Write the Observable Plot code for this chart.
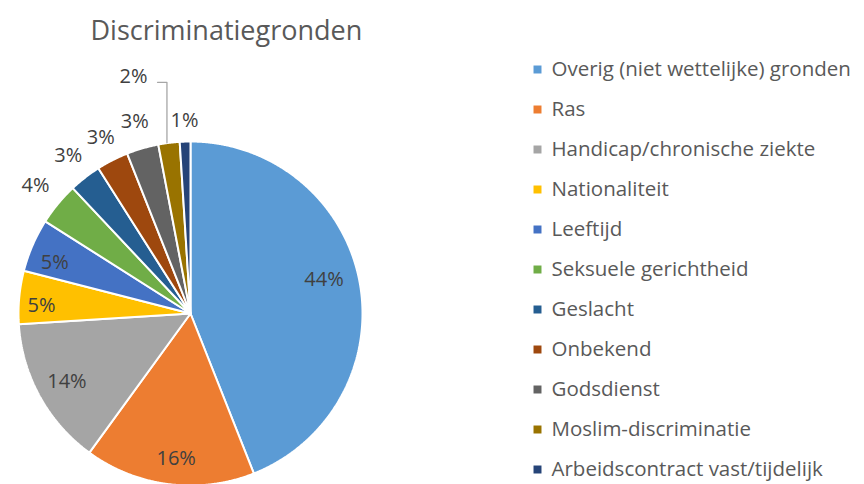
<!DOCTYPE html>
<html><head><meta charset="utf-8">
<script src="https://cdn.jsdelivr.net/npm/d3@7"></script>
<script src="https://cdn.jsdelivr.net/npm/@observablehq/plot@0.6"></script>
<style>body{margin:0;background:#fff}</style>
</head><body><div id="chart"></div>
<script>
const title = "Discriminatiegronden";
const names = ["Overig (niet wettelijke) gronden","Ras","Handicap/chronische ziekte","Nationaliteit","Leeftijd","Seksuele gerichtheid","Geslacht","Onbekend","Godsdienst","Moslim-discriminatie","Arbeidscontract vast/tijdelijk"];
const values = [44,16,14,5,5,4,3,3,3,2,1];
const colors = ["#5B9BD5","#ED7D31","#A5A5A5","#FFC000","#4472C4","#70AD47","#255E91","#9E480E","#636363","#997300","#264478"];

// layout
const W = 864, H = 484, cx = 190, cy = 313, R = 172;
const labelK = [0.79,0.85,0.82,0.87,0.86,1.17,1.16,1.15,1.16,1.39,1.12];
const labelDx = [0,4,0,0,0,0,0,0,0,-27,0];
const labelDy = [-8,0,0,6,8,0,0,0,0,0,0];

const arcs = d3.pie().sort(null).value(d => d)(values);
const pt = (a, r) => [cx + r * Math.sin(a), cy - r * Math.cos(a)];

const slicePts = [];
arcs.forEach((a, i) => {
  slicePts.push({name: names[i], x: cx, y: cy});
  const n = Math.max(2, Math.ceil((a.endAngle - a.startAngle) / 0.005));
  for (let k = 0; k <= n; k++) {
    const ang = a.startAngle + (a.endAngle - a.startAngle) * k / n;
    const [x, y] = pt(ang, R);
    slicePts.push({name: names[i], x, y});
  }
  slicePts.push({name: names[i], x: cx, y: cy});
});

const labels = arcs.map((a, i) => {
  const m = (a.startAngle + a.endAngle) / 2;
  const [x, y] = pt(m, R * labelK[i]);
  return {text: values[i] + "%", x: x + labelDx[i], y: y + labelDy[i]};
});

// leader line for displaced label (Moslim-discriminatie)
const li = 9;
const lm = (arcs[li].startAngle + arcs[li].endAngle) / 2;
const [ex, ey] = pt(lm, R);
const leader = [
  {x: labels[li].x + 24, y: labels[li].y + 6},
  {x: ex - 2, y: labels[li].y + 6},
  {x: ex - 2, y: ey}
];

const legend = names.map((n, i) => ({name: n, y: 69 + i * 40}));

const chart = Plot.plot({
  width: W, height: H, margin: 0,
  x: {domain: [0, W], range: [0, W], axis: null},
  y: {domain: [0, H], range: [0, H], axis: null},
  color: {domain: names, range: colors},
  style: {fontFamily: "'Open Sans', sans-serif", background: "#fff"},
  marks: [
    Plot.line(slicePts, {x: "x", y: "y", z: "name", fill: "name", stroke: "white", strokeWidth: 2, strokeLinejoin: "miter"}),
    Plot.line(leader, {x: "x", y: "y", stroke: "#A6A6A6", strokeWidth: 1.3}),
    Plot.text(labels, {x: "x", y: "y", text: "text", fontSize: 20, fill: "#404040"}),
    Plot.text([title], {x: () => 90, y: () => 31, text: d => d, fontSize: 27, fill: "#595959", textAnchor: "start"}),
    Plot.dot(legend, {x: () => 537, y: "y", symbol: "square", r: 4.5, fill: "name"}),
    Plot.text(legend, {x: () => 551, y: "y", text: "name", fontSize: 20.5, fill: "#595959", textAnchor: "start"})
  ]
});
document.getElementById("chart").appendChild(chart);
</script>
</body></html>
